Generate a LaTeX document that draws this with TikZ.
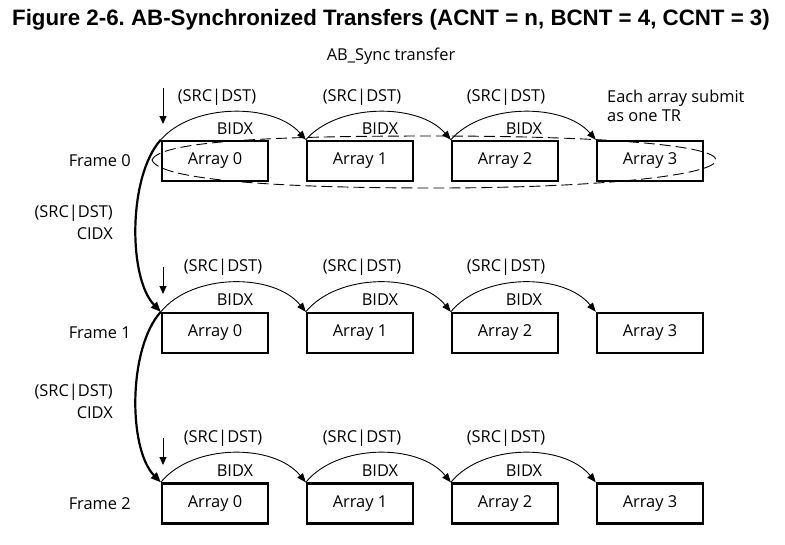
\documentclass[tikz,border=0pt]{standalone}
\usepackage{fontspec}
\setmainfont{Open Sans}
\newfontfamily\titlefont{Liberation Sans}
\usetikzlibrary{arrows.meta}
\frenchspacing
\begin{document}
\begin{tikzpicture}[x=1pt,y=-1pt,
  arr/.style={draw,line width=2.4pt,minimum width=106pt,minimum height=40pt,inner sep=0pt,font=\fontsize{16.4}{19}\selectfont},
  lbl/.style={inner sep=0pt,font=\fontsize{16.4}{19}\selectfont},
  bidx/.style={line width=0.9pt,-{Triangle[length=9pt,width=7pt]}},
  cidx/.style={line width=2.2pt,-{Triangle[length=10pt,width=8pt]}},
  tick/.style={line width=1pt,-{Triangle[length=8pt,width=7pt]}}]
\useasboundingbox (0,0) rectangle (785,544);
\fill[white] (0,0) rectangle (785,544);
\node[inner sep=0pt,font=\titlefont\bfseries\fontsize{22.3}{26}\selectfont] (title) at (391,20) {Figure 2-6. AB-Synchronized Transfers (ACNT = n, BCNT = 4, CCNT = 3)};
\node[lbl] (sub) at (391,56) {AB\_Sync transfer};
% frame rows
\foreach \r/\y in {0/161,1/333,2/503.5}{
  \node[arr] (a\r0) at (215,\y) {Array 0};
  \node[arr] (a\r1) at (360,\y) {Array 1};
  \node[arr] (a\r2) at (505,\y) {Array 2};
  \node[arr] (a\r3) at (650,\y) {Array 3};
  \node[lbl,anchor=east] (f\r) at (131,\y) {Frame \r};
}
% ellipse
\draw[line width=0.9pt,dash pattern=on 11pt off 5pt] (152,160) .. controls (160,139) and (300,136) .. (434,136) .. controls (600,136) and (716,145) .. (716,160) .. controls (716,175) and (600,188) .. (434,188) .. controls (300,188) and (160,182) .. (152,160);
% BIDX arcs
\foreach \r/\dy in {0/-37,1/-39,2/-39}{
  \foreach \i/\j in {0/1,1/2,2/3}{
    \draw[bidx] (a\r\i.north west) .. controls +(32,\dy) and +(-32,\dy) .. (a\r\j.north west);
  }
}
% SRC|DST and BIDX labels
\foreach \r/\ys/\yb/\xo in {0/97/129/217,1/267/300/223,2/438/471/223}{
  \node[lbl] (s\r0) at (\xo,\ys) {(SRC|DST)};
  \node[lbl] (s\r1) at (362,\ys) {(SRC|DST)};
  \node[lbl] (s\r2) at (506,\ys) {(SRC|DST)};
  \node[lbl] (b\r0) at (235,\yb) {BIDX};
  \node[lbl] (b\r1) at (380,\yb) {BIDX};
  \node[lbl] (b\r2) at (524,\yb) {BIDX};
}
\node[lbl,anchor=west,align=left] (note) at (607,106) {Each array submit\\as one TR};
% small down arrows
\coordinate (t0) at (163,88);
\coordinate (t1) at (163,267);
\coordinate (t2) at (163,438);
\coordinate (e0) at (163,124);
\coordinate (e1) at (163,294);
\coordinate (e2) at (163,465);
\foreach \r in {0,1,2}{\draw[tick] (t\r) -- (e\r);}
% CIDX curves
\draw[cidx] (a00.north west) .. controls (128,176) and (128,278) .. (a10.north west);
\draw[cidx] (a10.north west) .. controls (128,348) and (128,449) .. (a20.north west);
\node[lbl,anchor=east] (c0s) at (113,213) {(SRC|DST)};
\node[lbl,anchor=east] (c0c) at (113,234) {CIDX};
\node[lbl,anchor=east] (c1s) at (113,392) {(SRC|DST)};
\node[lbl,anchor=east] (c1c) at (113,413) {CIDX};
\end{tikzpicture}
\end{document}
